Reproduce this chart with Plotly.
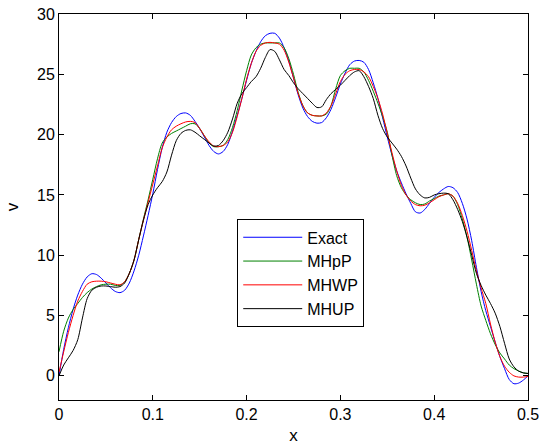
import plotly.graph_objects as go

x_vals = [round(i * 0.005, 3) for i in range(101)]

exact = [0.0, 2.2, 4.0, 5.5, 6.7, 7.6, 8.2, 8.47, 8.4, 8.1,
         7.7, 7.3, 7.0, 6.9, 7.1, 7.7, 8.7, 10.0, 11.6, 13.3,
         15.1, 17.1, 18.9, 20.2, 21.0, 21.5, 21.75, 21.8, 21.6, 21.1,
         20.5, 19.8, 19.1, 18.6, 18.4, 18.6, 19.2, 20.3, 21.6, 23.0,
         24.5, 25.9, 26.9, 27.7, 28.2, 28.4, 28.4, 28.0, 27.2, 26.1,
         24.7, 23.3, 22.2, 21.5, 21.1, 20.95, 21.0, 21.4, 22.1, 23.1,
         24.2, 25.1, 25.8, 26.1, 26.15, 26.0, 25.4, 24.3, 23.0, 21.4,
         19.8, 18.3, 17.0, 16.0, 15.1, 14.3, 13.6, 13.5, 13.8, 14.3,
         14.8, 15.2, 15.5, 15.7, 15.6, 15.2, 14.3, 13.0, 11.2, 9.0,
         7.0, 5.4, 4.1, 2.8, 1.6, 0.6, -0.3, -0.65, -0.6, -0.35, 0.0]

mhpp = [2.0, 3.7, 4.8, 5.5, 6.0, 6.5, 6.9, 7.2, 7.4, 7.55,
        7.6, 7.6, 7.5, 7.5, 7.8, 8.5, 9.6, 11.3, 13.0, 14.6,
        16.3, 18.0, 19.3, 19.8, 20.1, 20.3, 20.5, 20.7, 20.9, 20.9,
        20.5, 19.9, 19.3, 19.0, 19.0, 19.1, 19.6, 20.6, 22.0, 23.7,
        25.3, 26.6, 27.2, 27.5, 27.6, 27.6, 27.6, 27.6, 27.2, 26.3,
        25.0, 23.5, 22.4, 21.8, 21.6, 21.55, 21.55, 21.7, 22.4, 23.8,
        24.9, 25.3, 25.5, 25.5, 25.5, 25.2, 24.5, 23.6, 22.6, 21.5,
        20.2, 18.3, 16.6, 15.6, 15.0, 14.6, 14.35, 14.2, 14.25, 14.5,
        14.7, 14.9, 15.0, 15.1, 14.9, 14.2, 13.0, 11.5, 9.6, 7.6,
        5.8, 4.6, 3.5, 2.6, 1.9, 1.4, 0.9, 0.6, 0.4, 0.25, 0.2]

mhwp = [0.3, 2.0, 3.6, 5.0, 6.2, 7.0, 7.6, 7.8, 7.85, 7.85,
        7.8, 7.7, 7.6, 7.55, 7.8, 8.5, 9.6, 11.3, 12.9, 14.4,
        15.9, 17.4, 18.9, 19.8, 20.4, 20.7, 20.9, 21.05, 21.1, 21.0,
        20.5, 19.9, 19.4, 19.05, 19.0, 19.1, 19.4, 20.2, 21.5, 23.0,
        24.6, 25.9, 26.9, 27.4, 27.6, 27.65, 27.6, 27.5, 27.0, 26.0,
        24.7, 23.4, 22.4, 21.8, 21.6, 21.55, 21.55, 21.8, 22.4, 23.4,
        24.4, 25.0, 25.3, 25.4, 25.4, 25.2, 24.8, 24.0, 23.0, 21.7,
        20.1, 18.5, 17.0, 15.8, 15.0, 14.5, 14.2, 14.1, 14.15, 14.35,
        14.6, 14.85, 15.0, 15.1, 14.9, 14.3, 13.3, 12.0, 10.4, 8.7,
        7.3, 6.0, 4.3, 2.8, 1.6, 0.8, 0.3, 0.0, -0.1, -0.1, -0.05]

mhup = [0.0, 0.9, 1.5, 2.1, 3.0, 4.8, 6.4, 7.1, 7.35, 7.45,
        7.45, 7.4, 7.35, 7.4, 7.7, 8.5, 9.6, 11.3, 12.9, 14.2,
        15.0, 15.6, 16.1, 16.9, 18.3, 19.5, 20.1, 20.35, 20.4, 20.2,
        19.9, 19.6, 19.3, 19.05, 19.1, 19.5, 20.2, 21.3, 22.6, 23.4,
        23.9, 24.4, 24.8, 25.5, 26.4, 27.05, 26.9, 26.2, 25.4, 24.9,
        24.3, 23.8, 23.4, 23.0, 22.6, 22.25, 22.3, 22.9, 23.4, 23.75,
        24.1, 24.5, 24.9, 25.2, 25.3, 24.8, 24.0, 23.0, 21.6, 20.5,
        19.8, 19.3, 18.8, 18.2, 17.4, 16.4, 15.5, 15.0, 14.75, 14.8,
        15.0, 15.1, 15.15, 15.1, 14.6, 13.8, 12.8, 11.5, 10.0, 8.5,
        7.5, 6.7, 6.0, 5.2, 4.1, 2.7, 1.4, 0.75, 0.4, 0.25, 0.2]

series_names = ["Exact", "MHpP", "MHWP", "MHUP"]
series_vals = [exact, mhpp, mhwp, mhup]
series_colors = ["#0000ff", "#008000", "#ff0000", "#000000"]

x_ticks = [0, 0.1, 0.2, 0.3, 0.4, 0.5]
x_tick_text = ["0", "0.1", "0.2", "0.3", "0.4", "0.5"]
y_ticks = [0, 5, 10, 15, 20, 25, 30]

fig = go.Figure()
for name, vals, col in zip(series_names, series_vals, series_colors):
    fig.add_trace(go.Scatter(x=x_vals, y=vals, mode="lines", name=name,
                             line=dict(color=col, width=1, shape="spline", smoothing=0.8)))

font_family = "Liberation Sans, Arial, sans-serif"
axis_common = dict(showgrid=False, zeroline=False, showline=True, linecolor="black",
                   linewidth=1, mirror="ticks", ticks="inside", ticklen=5,
                   tickcolor="black", tickwidth=1, automargin=False,
                   ticklabeloverflow="allow",
                   tickfont=dict(family=font_family, size=16, color="black"))

fig.update_layout(
    width=539, height=447,
    margin=dict(l=59, r=11, t=14, b=47),
    paper_bgcolor="white", plot_bgcolor="white",
    font=dict(family=font_family, size=16, color="black"),
    xaxis=dict(range=[0, 0.5], tickvals=x_ticks, ticktext=x_tick_text,
               title=dict(text="x", standoff=6, font=dict(size=17)), **axis_common),
    yaxis=dict(range=[-2, 30], tickvals=y_ticks,
               title=dict(text="v", standoff=14, font=dict(size=17)), **axis_common),
    legend=dict(x=0.38, y=0.468, xanchor="left", yanchor="top",
                bgcolor="white", bordercolor="black", borderwidth=1,
                font=dict(family=font_family, size=16, color="black"),
                itemwidth=59, tracegroupgap=0),
    showlegend=True,
)

fig.write_html("out.html")
